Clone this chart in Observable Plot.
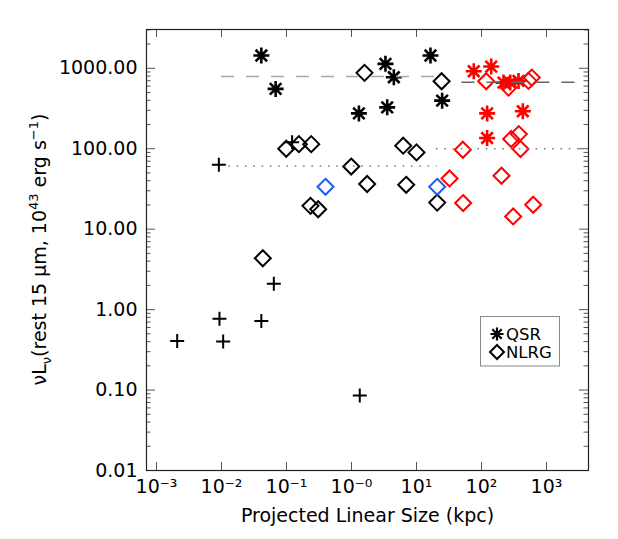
<!DOCTYPE html>
<html><head><meta charset="utf-8">
<script src="https://cdn.jsdelivr.net/npm/d3@7"></script>
<script src="https://cdn.jsdelivr.net/npm/@observablehq/plot@0.6"></script>
<style>body{margin:0;background:#fff}</style>
</head><body><div id="chart"></div>
<script>
// ---- data (kpc, 10^43 erg/s) ----
const qsrX = [0.041, 0.068, 1.30, 3.33, 4.48, 3.54, 16.4, 24.8];
const qsrY = [1440, 554, 275, 1135, 773, 327, 1440, 396];
const qsrRedX = [76, 141, 218, 277, 371, 122, 432, 122];
const qsrRedY = [918, 1050, 664, 664, 697, 275, 292, 136];
const nlrgX = [1.585, 24.3, 0.099, 0.155, 0.24, 6.24, 10.0, 0.99, 1.74, 6.94, 20.8, 0.234, 0.307, 0.0432];
const nlrgY = [877, 689, 100, 114, 114, 109, 90, 60, 36.4, 35.6, 21.4, 19.5, 17.7, 4.35];
const nlrgBlueX = [0.398, 20.8];
const nlrgBlueY = [33.6, 33.6];
const nlrgRedX = [118, 260, 528, 594, 286, 375, 398, 51.6, 32.2, 203, 52.2, 624, 307];
const nlrgRedY = [690, 575, 697, 766, 132, 152, 99, 97, 42.7, 46.1, 21.1, 20.1, 14.4];
const otherX = [0.0091, 0.122, 0.0638, 0.0093, 0.041, 0.00208, 0.0106, 1.34];
const otherY = [63, 120, 2.10, 0.77, 0.72, 0.406, 0.40, 0.0857];
// reference levels
const dashLevels = [790, 670];
const dashFrom = [0.01, 50];
const dashTo = [21, 3000];
const dashColors = ["#a8a8a8", "#666"];
const dotLevels = [61, 100];
const dotFrom = [0.013, 20.3];
const dotTo = [20.8, 3300];
// ticks
const xTicks = [1e-3, 1e-2, 1e-1, 1, 10, 100, 1000];
const xTickLabels = ["10\u207B\u00B3", "10\u207B\u00B2", "10\u207B\u00B9", "10\u207B\u2070", "10\u00B9", "10\u00B2", "10\u00B3"];
const yTicks = [0.01, 0.1, 1, 10, 100, 1000];
const yTickLabels = ["0.01", "0.10", "1.00", "10.00", "100.00", "1000.00"];
const xDomain = [Math.pow(10, -3.154), Math.pow(10, 3.646)];
const yDomain = [0.01, Math.pow(10, 3.482)];

const pts = (xs, ys) => xs.map((x, i) => ({x, y: ys[i]}));
const yMinor = yTicks.flatMap(d => [2,3,4,5,6,7,8,9].map(k => d * k)).filter(v => v <= yDomain[1]);

const asterisk = {draw(ctx, size) {
  const r = Math.sqrt(size / Math.PI), d = r * 0.72;
  ctx.moveTo(-r, 0); ctx.lineTo(r, 0); ctx.moveTo(0, -r); ctx.lineTo(0, r);
  ctx.moveTo(-d, -d); ctx.lineTo(d, d); ctx.moveTo(-d, d); ctx.lineTo(d, -d);
}};
const diamond = {draw(ctx, size) {
  const r = Math.sqrt(size / Math.PI);
  ctx.moveTo(0, -r); ctx.lineTo(r, 0); ctx.lineTo(0, r); ctx.lineTo(-r, 0); ctx.closePath();
}};
const plus = {draw(ctx, size) {
  const r = Math.sqrt(size / Math.PI);
  ctx.moveTo(-r, 0); ctx.lineTo(r, 0); ctx.moveTo(0, -r); ctx.lineTo(0, r);
}};

const W = 618, H = 539, mL = 146, mR = 30, mT = 29, mB = 69;
const fw = W - mL - mR, fh = H - mT - mB;
const tickC = "#555";
const font = "DejaVu Sans";

const dashRows = dashLevels.map((y, i) => ({y, x1: dashFrom[i], x2: dashTo[i], c: dashColors[i]}));
const dotRows = dotLevels.map((y, i) => ({y, x1: dotFrom[i], x2: dotTo[i]}));

const chart = Plot.plot({
  width: W, height: H,
  marginLeft: mL, marginRight: mR, marginTop: mT, marginBottom: mB,
  style: {fontFamily: font, background: "#fff", color: "#000"},
  x: {type: "log", domain: xDomain, axis: null},
  y: {type: "log", domain: yDomain, axis: null},
  marks: [
    // ticks (inward, all four sides)
    Plot.tickX(xTicks, {x: d => d, insetTop: fh - 8, stroke: tickC}),
    Plot.tickX(xTicks, {x: d => d, insetBottom: fh - 8, stroke: tickC}),
    Plot.tickY(yTicks, {y: d => d, insetRight: fw - 9, stroke: tickC}),
    Plot.tickY(yTicks, {y: d => d, insetLeft: fw - 9, stroke: tickC}),
    Plot.tickY(yMinor, {y: d => d, insetRight: fw - 4.5, stroke: tickC}),
    Plot.tickY(yMinor, {y: d => d, insetLeft: fw - 4.5, stroke: tickC}),
    // tick labels
    Plot.text(xTicks, {x: d => d, frameAnchor: "bottom", dy: 22, text: (d, i) => xTickLabels[i], fontSize: 19, fill: "#000"}),
    Plot.text(yTicks, {y: d => d, frameAnchor: "left", dx: -9, textAnchor: "end", text: (d, i) => yTickLabels[i], fontSize: 19, fill: "#000"}),
    Plot.text(["Projected Linear Size (kpc)"], {frameAnchor: "bottom", dy: 51, text: d => d, fontSize: 19, fill: "#000"}),
    // points
    Plot.dot(pts(otherX, otherY), {x: "x", y: "y", r: 7, symbol: plus, stroke: "#000", fill: "none", strokeWidth: 2}),
    Plot.dot(pts(nlrgX, nlrgY), {x: "x", y: "y", r: 8, symbol: diamond, stroke: "#000", fill: "none", strokeWidth: 2}),
    Plot.dot(pts(nlrgBlueX, nlrgBlueY), {x: "x", y: "y", r: 8, symbol: diamond, stroke: "#1f5fe8", fill: "none", strokeWidth: 2}),
    Plot.dot(pts(nlrgRedX, nlrgRedY), {x: "x", y: "y", r: 8, symbol: diamond, stroke: "#ff0000", fill: "none", strokeWidth: 2}),
    Plot.dot(pts(qsrX, qsrY), {x: "x", y: "y", r: 8, symbol: asterisk, stroke: "#000", fill: "none", strokeWidth: 2.6}),
    Plot.dot(pts(qsrRedX, qsrRedY), {x: "x", y: "y", r: 8, symbol: asterisk, stroke: "#ff0000", fill: "none", strokeWidth: 2.6}),
    // reference lines
    Plot.ruleY(dashRows, {y: "y", x1: "x1", x2: "x2", stroke: "c", strokeWidth: 1.5, strokeDasharray: "13,12"}),
    Plot.ruleY(dotRows, {y: "y", x1: "x1", x2: "x2", stroke: "#777", strokeWidth: 1.5, strokeDasharray: "1.5,6.8"}),
    Plot.frame({stroke: "#222", strokeWidth: 1.2})
  ]
});
document.getElementById("chart").appendChild(chart);

const svg = d3.select(chart);
// y-axis title
const yt = svg.append("text")
  .attr("transform", `translate(46,${mT + fh / 2}) rotate(-90)`)
  .attr("text-anchor", "middle")
  .attr("font-family", font).attr("font-size", 19).attr("fill", "#000");
yt.append("tspan").text("\u03BDL");
yt.append("tspan").attr("font-size", 13).attr("dy", 5).text("\u03BD");
yt.append("tspan").attr("dy", -5).text("(rest 15 \u03BCm, 10");
yt.append("tspan").attr("font-size", 13).attr("dy", -8).text("43");
yt.append("tspan").attr("dy", 8).text(" erg s");
yt.append("tspan").attr("font-size", 13).attr("dy", -8).text("\u22121");
yt.append("tspan").attr("dy", 8).text(")");

// legend
const lg = svg.append("g").attr("text-anchor", "start");
lg.append("rect").attr("x", 480.5).attr("y", 316.5).attr("width", 79).attr("height", 49.5)
  .attr("fill", "#fff").attr("stroke", "#888").attr("stroke-width", 1);
lg.append("path").attr("transform", "translate(497,334)").attr("d", d3.symbol(asterisk, 6.5 * 6.5 * Math.PI)())
  .attr("fill", "none").attr("stroke", "#000").attr("stroke-width", 2.2);
lg.append("path").attr("transform", "translate(497,352)").attr("d", d3.symbol(diamond, 7 * 7 * Math.PI)())
  .attr("fill", "none").attr("stroke", "#000").attr("stroke-width", 2);
lg.append("text").attr("x", 506).attr("y", 340).attr("text-anchor", "start").attr("font-family", font).attr("font-size", 16.5).attr("fill", "#000").text("QSR");
lg.append("text").attr("x", 506).attr("y", 358).attr("text-anchor", "start").attr("font-family", font).attr("font-size", 16.5).attr("fill", "#000").text("NLRG");
</script>
</body></html>
